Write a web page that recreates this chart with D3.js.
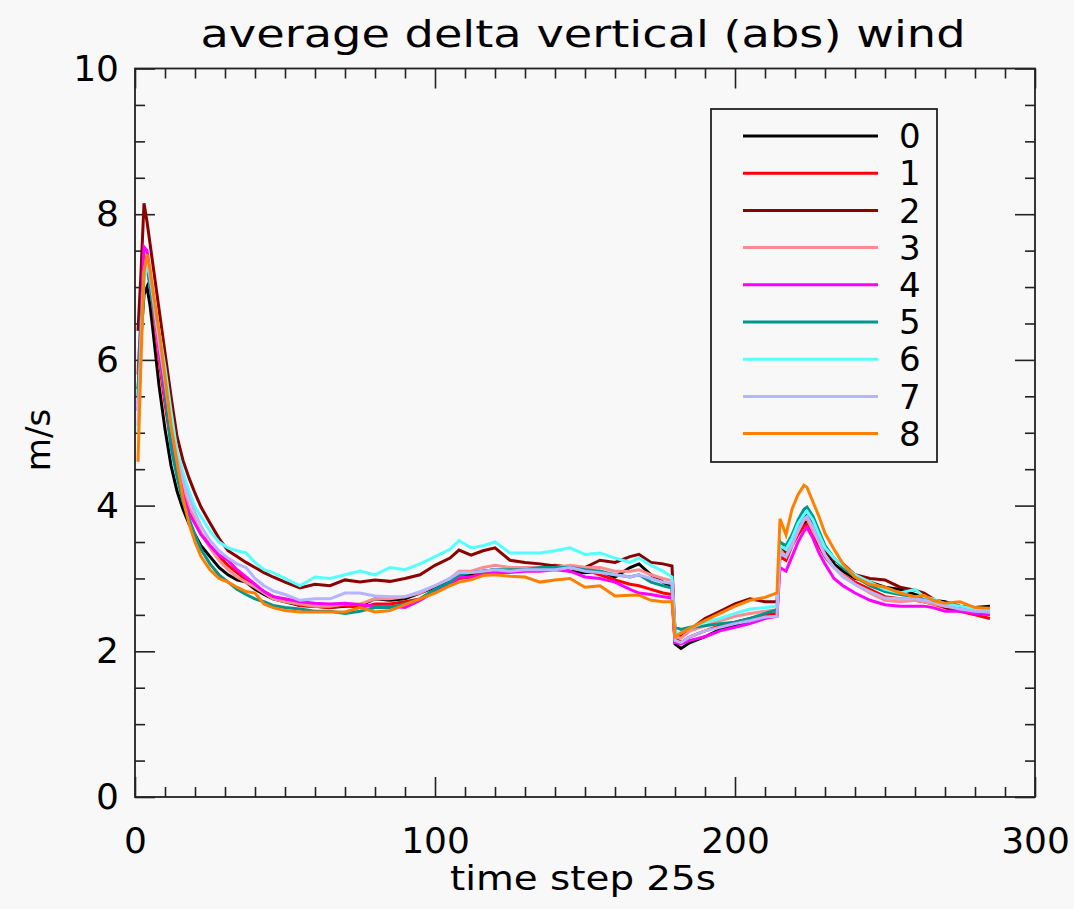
<!DOCTYPE html>
<html>
<head>
<meta charset="utf-8">
<script src="https://cdn.jsdelivr.net/npm/d3@7"></script>
<style>
  html, body { margin: 0; padding: 0; background: #f8f8f8; }
  svg { display: block; }
  text { font-family: "DejaVu Sans", sans-serif; fill: #000; }
</style>
</head>
<body>
<svg id="chart" width="1074" height="909"></svg>
<script>
// ---------------- data ----------------
const titleText = "average delta vertical (abs) wind";
const xLabel = "time step 25s";
const yLabel = "m/s";
const seriesNames = ["0", "1", "2", "3", "4", "5", "6", "7", "8"];
const seriesColors = ["#000000", "#ff0000", "#8b0000", "#ff8c8c", "#ff00ff", "#00968c", "#55ffff", "#b4b4ff", "#ff7f00"];
const xTickLabels = [0, 100, 200, 300];
const yTickLabels = [0, 2, 4, 6, 8, 10];

const steps = [1,2,3,4,5,6,8,10,12,14,16,18,20,22,25,28,31,34,37,40,43,46,50,55,60,65,70,75,80,85,90,95,100,105,108,112,116,120,125,130,135,140,145,150,155,160,165,168,172,176,179,180,182,185,190,195,200,205,210,214,215,217,219,221,223,224,226,228,230,233,236,240,245,250,255,260,263,266,270,275,280,285];

const s0 = [5.6,6.3,6.9,7.0,6.75,6.4,5.65,5.05,4.55,4.2,3.95,3.75,3.6,3.45,3.3,3.15,3.05,2.98,2.95,2.85,2.78,2.72,2.68,2.63,2.62,2.6,2.62,2.63,2.72,2.7,2.72,2.8,2.88,2.95,3.05,3.05,3.1,3.12,3.1,3.12,3.12,3.15,3.1,3.08,3.1,3.02,3.15,3.2,3.05,2.95,2.88,2.1,2.04,2.12,2.2,2.3,2.35,2.42,2.47,2.5,3.45,3.3,3.5,3.65,3.75,3.8,3.65,3.5,3.38,3.2,3.1,3.0,2.95,2.88,2.85,2.78,2.75,2.7,2.68,2.62,2.6,2.62];
const s1 = [5.8,6.6,7.2,7.3,7.05,6.7,6.0,5.4,4.85,4.45,4.15,3.95,3.78,3.62,3.45,3.3,3.18,3.08,2.98,2.9,2.82,2.75,2.7,2.63,2.62,2.6,2.63,2.6,2.65,2.65,2.68,2.72,2.82,2.92,3.0,3.02,3.08,3.1,3.1,3.12,3.15,3.18,3.15,3.12,3.05,2.98,2.92,2.9,2.85,2.8,2.78,2.18,2.12,2.2,2.28,2.35,2.4,2.45,2.5,2.52,3.3,3.25,3.45,3.6,3.72,3.75,3.6,3.45,3.3,3.15,3.05,2.95,2.85,2.75,2.72,2.7,2.68,2.65,2.6,2.55,2.5,2.45];
const s2 = [6.4,7.2,8.15,7.9,7.6,7.3,6.7,6.1,5.5,4.95,4.62,4.38,4.17,3.98,3.76,3.55,3.38,3.3,3.22,3.15,3.08,3.02,2.95,2.87,2.92,2.9,2.98,2.95,2.98,2.96,3.0,3.05,3.18,3.28,3.39,3.32,3.38,3.42,3.25,3.22,3.2,3.17,3.16,3.15,3.25,3.22,3.3,3.33,3.22,3.2,3.17,2.25,2.2,2.3,2.45,2.55,2.65,2.72,2.68,2.68,3.5,3.35,3.5,3.7,3.85,3.88,3.75,3.55,3.38,3.25,3.2,3.05,3.0,2.98,2.88,2.84,2.8,2.72,2.6,2.55,2.55,2.55];
const s3 = [5.4,6.4,7.2,7.4,7.15,6.8,6.1,5.5,4.95,4.55,4.22,3.98,3.8,3.62,3.42,3.25,3.12,3.02,2.95,2.88,2.8,2.72,2.68,2.65,2.62,2.62,2.65,2.65,2.72,2.72,2.75,2.8,2.9,3.0,3.1,3.1,3.15,3.18,3.15,3.15,3.15,3.15,3.18,3.15,3.15,3.1,3.1,3.12,3.05,3.0,2.97,2.2,2.18,2.28,2.35,2.42,2.48,2.52,2.55,2.57,3.4,3.3,3.5,3.65,3.8,3.82,3.65,3.5,3.32,3.15,3.05,2.92,2.8,2.7,2.68,2.7,2.68,2.65,2.62,2.62,2.58,2.55];
const s4 = [5.3,6.5,7.55,7.5,7.2,6.85,6.15,5.5,4.95,4.55,4.15,3.9,3.75,3.6,3.45,3.32,3.25,3.12,3.02,2.92,2.82,2.75,2.72,2.68,2.66,2.65,2.66,2.64,2.62,2.62,2.6,2.7,2.82,2.92,3.02,3.02,3.05,3.08,3.08,3.1,3.1,3.12,3.1,3.02,3.0,2.95,2.85,2.8,2.78,2.75,2.73,2.12,2.1,2.15,2.2,2.28,2.33,2.38,2.45,2.48,3.15,3.1,3.3,3.5,3.65,3.7,3.55,3.35,3.2,3.0,2.9,2.8,2.7,2.64,2.62,2.62,2.62,2.6,2.55,2.55,2.52,2.5];
const s5 = [5.5,6.5,7.2,7.28,7.0,6.75,6.3,5.6,4.8,4.4,4.05,3.82,3.6,3.4,3.2,3.05,2.95,2.85,2.78,2.72,2.68,2.63,2.6,2.58,2.55,2.55,2.52,2.55,2.6,2.6,2.65,2.72,2.85,2.95,3.05,3.08,3.1,3.12,3.12,3.12,3.15,3.15,3.15,3.12,3.1,3.05,3.02,3.05,2.95,2.9,2.87,2.33,2.3,2.33,2.35,2.38,2.4,2.45,2.52,2.57,3.5,3.45,3.6,3.8,3.95,3.98,3.85,3.65,3.45,3.28,3.15,3.02,2.9,2.82,2.78,2.75,2.72,2.7,2.65,2.6,2.58,2.58];
const s6 = [5.0,6.2,7.1,7.3,7.15,6.9,6.4,5.9,5.3,4.75,4.45,4.2,3.98,3.85,3.65,3.5,3.42,3.38,3.35,3.22,3.12,3.08,3.0,2.9,3.02,3.0,3.05,3.1,3.05,3.15,3.12,3.2,3.3,3.4,3.52,3.42,3.45,3.5,3.35,3.35,3.35,3.38,3.42,3.33,3.35,3.28,3.22,3.28,3.18,3.1,3.02,2.25,2.25,2.32,2.4,2.45,2.52,2.58,2.6,2.62,3.45,3.4,3.55,3.75,3.88,3.92,3.8,3.6,3.42,3.28,3.18,3.05,2.95,2.85,2.8,2.85,2.75,2.72,2.65,2.62,2.58,2.56];
const s7 = [5.1,6.3,7.2,7.4,7.15,6.85,6.25,5.7,5.1,4.65,4.35,4.1,3.9,3.72,3.52,3.38,3.28,3.2,3.15,3.0,2.9,2.83,2.78,2.7,2.72,2.72,2.8,2.8,2.76,2.75,2.75,2.82,2.9,3.0,3.08,3.08,3.1,3.12,3.1,3.12,3.12,3.12,3.15,3.1,3.08,3.05,3.02,3.05,3.0,2.95,2.93,2.15,2.12,2.2,2.28,2.33,2.38,2.42,2.47,2.48,3.35,3.3,3.45,3.65,3.82,3.85,3.7,3.5,3.32,3.15,3.02,2.92,2.82,2.73,2.72,2.72,2.7,2.68,2.62,2.58,2.55,2.54];
const s8 = [4.6,6.0,7.2,7.45,7.25,6.95,6.4,5.77,5.1,4.6,4.1,3.75,3.5,3.3,3.12,3.0,2.95,2.88,2.82,2.8,2.65,2.6,2.56,2.54,2.54,2.54,2.54,2.6,2.54,2.56,2.64,2.72,2.8,2.9,2.95,2.98,3.04,3.05,3.03,3.02,2.95,2.98,3.0,2.88,2.9,2.76,2.77,2.77,2.7,2.68,2.68,2.2,2.25,2.32,2.42,2.52,2.62,2.7,2.74,2.8,3.82,3.6,3.95,4.15,4.28,4.25,4.05,3.85,3.62,3.4,3.2,3.02,2.92,2.88,2.8,2.75,2.77,2.7,2.66,2.68,2.6,2.59];

const seriesValues = [s0, s1, s2, s3, s4, s5, s6, s7, s8];

// ---------------- layout ----------------
const svg = d3.select("#chart");
const W = 1074, H = 909;
const plot = { left: 135, right: 1035, top: 68.5, bottom: 797 };

svg.append("rect").attr("width", W).attr("height", H).attr("fill", "#f8f8f8");

const x = d3.scaleLinear().domain([0, 300]).range([plot.left, plot.right]);
const y = d3.scaleLinear().domain([0, 10]).range([plot.bottom, plot.top]);

const axisColor = "#222";
const fontSize = 36;

function styleAxis(g) {
  g.select(".domain").remove();
  g.selectAll(".tick line").attr("stroke", axisColor).attr("stroke-width", 1.6);
  g.selectAll(".tick text").attr("font-size", fontSize).attr("font-family", "DejaVu Sans, sans-serif").attr("fill", "#000");
}

const xMinor = d3.range(0, 301, 10).filter(v => v % 100 !== 0);
const yMinor = d3.range(0, 10.01, 0.5).filter(v => Math.abs(v % 2) > 1e-9);

// bottom
svg.append("g").attr("transform", `translate(0,${plot.bottom})`)
  .call(d3.axisBottom(x).tickValues(xTickLabels).tickSizeInner(-20).tickSizeOuter(0).tickPadding(30).tickFormat(d3.format("d")))
  .call(styleAxis);
svg.append("g").attr("transform", `translate(0,${plot.bottom})`)
  .call(d3.axisBottom(x).tickValues(xMinor).tickSizeInner(-10).tickSizeOuter(0).tickFormat(""))
  .call(styleAxis);
// top
svg.append("g").attr("transform", `translate(0,${plot.top})`)
  .call(d3.axisTop(x).tickValues(xTickLabels).tickSizeInner(-20).tickSizeOuter(0).tickFormat(""))
  .call(styleAxis);
svg.append("g").attr("transform", `translate(0,${plot.top})`)
  .call(d3.axisTop(x).tickValues(xMinor).tickSizeInner(-10).tickSizeOuter(0).tickFormat(""))
  .call(styleAxis);
// left
svg.append("g").attr("transform", `translate(${plot.left},0)`)
  .call(d3.axisLeft(y).tickValues(yTickLabels).tickSizeInner(-20).tickSizeOuter(0).tickPadding(16).tickFormat(d3.format("d")))
  .call(styleAxis);
svg.append("g").attr("transform", `translate(${plot.left},0)`)
  .call(d3.axisLeft(y).tickValues(yMinor).tickSizeInner(-10).tickSizeOuter(0).tickFormat(""))
  .call(styleAxis);
// right
svg.append("g").attr("transform", `translate(${plot.right},0)`)
  .call(d3.axisRight(y).tickValues(yTickLabels).tickSizeInner(-20).tickSizeOuter(0).tickFormat(""))
  .call(styleAxis);
svg.append("g").attr("transform", `translate(${plot.right},0)`)
  .call(d3.axisRight(y).tickValues(yMinor).tickSizeInner(-10).tickSizeOuter(0).tickFormat(""))
  .call(styleAxis);

// frame
svg.append("rect")
  .attr("x", plot.left).attr("y", plot.top)
  .attr("width", plot.right - plot.left).attr("height", plot.bottom - plot.top)
  .attr("fill", "none").attr("stroke", axisColor).attr("stroke-width", 1.8);

// lines
const line = d3.line()
  .x((d, i) => x(steps[i]))
  .y(d => y(d));

const linesG = svg.append("g");
seriesValues.forEach((vals, k) => {
  linesG.append("path")
    .datum(vals)
    .attr("d", line)
    .attr("fill", "none")
    .attr("stroke", seriesColors[k])
    .attr("stroke-width", 3)
    .attr("stroke-linejoin", "miter")
    .attr("stroke-linecap", "butt");
});

// title
svg.append("text")
  .attr("x", 583).attr("y", 47)
  .attr("text-anchor", "middle")
  .attr("font-size", 38)
  .attr("textLength", 765)
  .attr("lengthAdjust", "spacingAndGlyphs")
  .text(titleText);

// x label
svg.append("text")
  .attr("x", 583).attr("y", 890)
  .attr("text-anchor", "middle")
  .attr("font-size", 33)
  .attr("textLength", 266)
  .attr("lengthAdjust", "spacingAndGlyphs")
  .text(xLabel);

// y label
svg.append("text")
  .attr("transform", `translate(50,440) rotate(-90)`)
  .attr("text-anchor", "middle")
  .attr("font-size", 34)
  .text(yLabel);

// legend
const leg = { x0: 711, y0: 109, x1: 937, y1: 462 };
svg.append("rect")
  .attr("x", leg.x0).attr("y", leg.y0)
  .attr("width", leg.x1 - leg.x0).attr("height", leg.y1 - leg.y0)
  .attr("fill", "none").attr("stroke", axisColor).attr("stroke-width", 1.8);

const legY = d3.scalePoint().domain(seriesNames).range([136, 433.6]);
const legG = svg.append("g");
seriesNames.forEach((name, k) => {
  legG.append("line")
    .attr("x1", 743).attr("x2", 878)
    .attr("y1", legY(name)).attr("y2", legY(name))
    .attr("stroke", seriesColors[k]).attr("stroke-width", 3);
  legG.append("text")
    .attr("x", 899).attr("y", legY(name))
    .attr("dy", "0.36em")
    .attr("font-size", 34)
    .text(name);
});
</script>
</body>
</html>
